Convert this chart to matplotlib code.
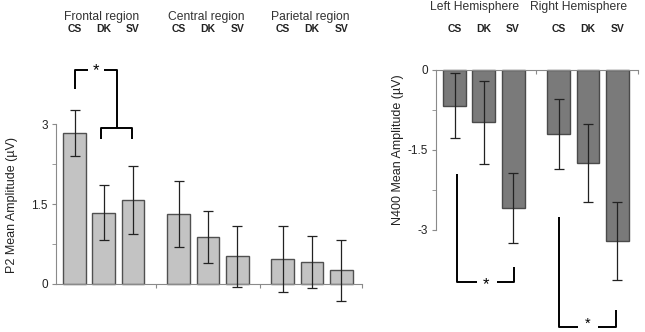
import matplotlib.pyplot as plt
import numpy as np

plt.rcParams['font.family'] = ['Liberation Sans', 'DejaVu Sans']

conds = ['CS', 'DK', 'SV']

# P2 (left panel)
p2_regions = ['Frontal region', 'Central region', 'Parietal region']
p2_means = [[2.83, 1.34, 1.58], [1.31, 0.88, 0.52], [0.47, 0.41, 0.26]]
p2_err = [[0.43, 0.52, 0.64], [0.62, 0.48, 0.57], [0.62, 0.49, 0.57]]

# N400 (right panel)
n4_regions = ['Left Hemisphere', 'Right Hemisphere']
n4_means = [[-0.67, -0.98, -2.59], [-1.20, -1.74, -3.21]]
n4_err = [[0.61, 0.78, 0.66], [0.66, 0.73, 0.73]]

offs = [-0.28, 0.0, 0.28]
W = 0.22
AXC = '#8a8a8a'

fig = plt.figure(figsize=(6.45, 3.32), dpi=100)


def panel(ax, regions, means, errs, fill, edge, ylim, xmax, ticks, minors, ybound):
    for g in range(len(regions)):
        for j in range(3):
            ax.bar(g + offs[j], means[g][j], W, color=fill, edgecolor=edge, lw=1.0, zorder=2)
            ax.errorbar(g + offs[j], means[g][j], yerr=errs[g][j], fmt='none',
                        ecolor='#222222', elinewidth=0.9, capsize=3.3, capthick=0.9, zorder=3)
    ax.set_xlim(-0.46, xmax)
    ax.set_ylim(*ylim)
    for s in ['top', 'right']:
        ax.spines[s].set_visible(False)
    ax.spines['left'].set_bounds(*ybound)
    ax.spines['left'].set_color(AXC)
    ax.spines['bottom'].set_color(AXC)
    ax.spines['bottom'].set_position(('data', 0))
    ax.set_yticks(ticks)
    ax.set_yticklabels([('%g' % t) for t in ticks], fontsize=8.5, color='#222222')
    ax.set_yticks(minors, minor=True)
    ax.tick_params(axis='y', which='both', direction='out', length=3, color=AXC, pad=3)
    xt = [g + 0.5 for g in range(len(regions) - 1)] + [xmax]
    ax.set_xticks(xt)
    ax.set_xticklabels([])
    ax.tick_params(axis='x', direction='out', length=3, color=AXC)
    ax.patch.set_visible(False)


# left panel: zero at y=284px, 53.33 px per unit
axL = fig.add_axes([56 / 645, 0, 306 / 645, 1])
panel(axL, p2_regions, p2_means, p2_err, '#c3c3c3', '#505050',
      (-48 / 53.33, 284 / 53.33), 2.48, [0, 1.5, 3], [0.75, 2.25], (0, 3))

# right panel: zero at y=70px
axR = fig.add_axes([436 / 645, 0, 202 / 645, 1])
panel(axR, n4_regions, n4_means, n4_err, '#7a7a7a', '#4a4a4a',
      (-262 / 53.33, 70 / 53.33), 1.48, [0, -1.5, -3], [-0.75, -2.25], (-3, 0))

# headers
for ax, regions, ytop, dx in [(axL, p2_regions, 17, -0.02), (axR, n4_regions, 7, -0.09)]:
    tr = ax.get_xaxis_transform()
    for g, r in enumerate(regions):
        ax.text(g + dx, 1 - ytop / 332, r, transform=tr,
                ha='center', va='center', fontsize=8.7, color='#333333')
        for j, c in enumerate(conds):
            ax.text(g + offs[j], 1 - 29 / 332, c, transform=tr, ha='center', va='center',
                    fontsize=7.5, fontweight='bold', color='#222222',
                    family=['Liberation Sans Narrow', 'Liberation Sans'])

fig.text(12 / 645, 1 - 205 / 332, 'P2 Mean Amplitude (µV)', rotation=90,
         ha='center', va='center', fontsize=9, color='#222222')
fig.text(398 / 645, 1 - 150 / 332, 'N400 Mean Amplitude (µV)', rotation=90,
         ha='center', va='center', fontsize=9, color='#222222')

# significance brackets
kw = dict(color='black', lw=1.4, clip_on=False, solid_capstyle='butt', zorder=4)
axL.plot([-0.28, -0.28, -0.15], [3.66, 4.01, 4.01], **kw)
axL.plot([0.0, 0.125, 0.125], [4.01, 4.01, 2.93], **kw)
axL.plot([-0.03, -0.03, 0.27, 0.27], [2.72, 2.93, 2.93, 2.72], **kw)
axL.text(-0.08, 4.0, '*', ha='center', va='center', fontsize=12)

axR.plot([-0.26, -0.26, -0.07], [-1.95, -3.98, -3.98], **kw)
axR.plot([0.125, 0.29, 0.29], [-3.98, -3.98, -3.70], **kw)
axR.text(0.02, -4.03, '*', ha='center', va='center', fontsize=12)

axR.plot([1 - 0.28, 1 - 0.28, 1 - 0.10], [-2.76, -4.82, -4.82], **kw)
axR.plot([1 + 0.10, 1 + 0.27, 1 + 0.27], [-4.82, -4.82, -4.50], **kw)
axR.text(1.0, -4.76, '*', ha='center', va='center', fontsize=10.5)

fig.savefig('out.png', dpi=100)
